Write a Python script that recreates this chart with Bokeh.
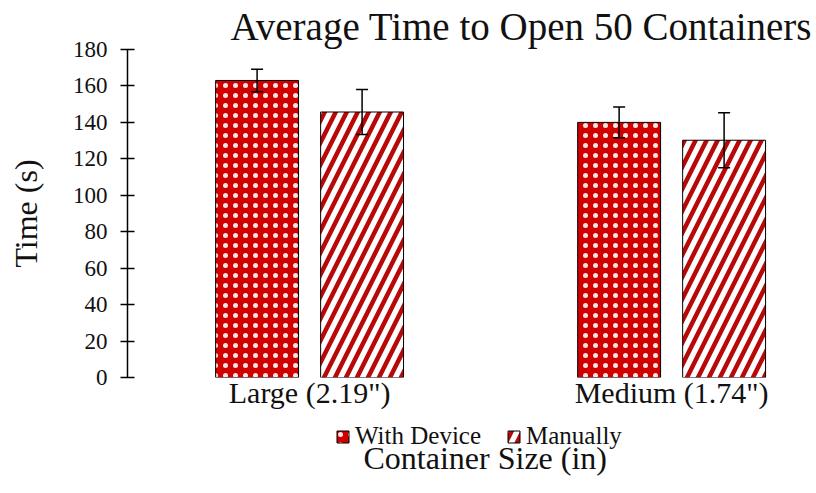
from bokeh.plotting import figure
from bokeh.models import (ColumnDataSource, Whisker, TeeHead, Legend, LegendItem,
                          FixedTicker, Range1d, Title, Label)
from bokeh.layouts import column
from bokeh.transform import dodge
from bokeh.embed import file_html
from bokeh.resources import INLINE

# ---- data ----
categories = ['Large (2.19")', 'Medium (1.74")']
device_mean = [163, 140]
device_err = [6.2, 8.4]
manual_mean = [145.7, 130.2]
manual_err = [12.3, 15.1]
y_ticks = [0, 20, 40, 60, 80, 100, 120, 140, 160, 180]
series_names = ["With Device", "Manually"]
title_text = "Average Time to Open 50 Containers"
x_title = "Container Size (in)"
y_title = "Time (s)"

FONT = "Liberation Serif"
RED = "#d00000"
STRIPE = "#b80808"
TXT = "#111111"

idx = list(range(len(categories)))
src = ColumnDataSource(dict(
    idx=idx,
    dev=device_mean,
    dev_lo=[m - e for m, e in zip(device_mean, device_err)],
    dev_hi=[m + e for m, e in zip(device_mean, device_err)],
    man=manual_mean,
    man_lo=[m - e for m, e in zip(manual_mean, manual_err)],
    man_hi=[m + e for m, e in zip(manual_mean, manual_err)],
))

dev_style = dict(fill_color=RED, line_color="black", line_width=1,
                 hatch_pattern="dot", hatch_color="#ffe4e4", hatch_scale=10, hatch_weight=1)
man_style = dict(fill_color="white", line_color="black", line_width=1,
                 hatch_pattern="right_diagonal_line", hatch_color=STRIPE,
                 hatch_scale=22, hatch_weight=4.5)

H1 = 420
p = figure(width=816, height=H1, output_backend="svg", toolbar_location=None,
           x_range=Range1d(-0.503, 1.356), y_range=Range1d(0, 180),
           min_border_left=127, min_border_right=16, min_border_top=49,
           min_border_bottom=H1 - 377)
p.title = Title(text=title_text, align="left", offset=103, text_font=FONT,
                text_font_size="39px", text_font_style="normal", text_color=TXT,
                standoff=4)
p.outline_line_color = None
p.xgrid.visible = False
p.ygrid.visible = False

off = 0.145
bw = 0.229
r1 = p.vbar(x=dodge("idx", -off), top="dev", width=bw, source=src, **dev_style)
r2 = p.vbar(x=dodge("idx", off), top="man", width=bw, source=src, **man_style)

for base_shift, lo, hi in [(-off, "dev_lo", "dev_hi"), (off, "man_lo", "man_hi")]:
    w = Whisker(base=dodge("idx", base_shift), lower=lo, upper=hi, source=src,
                line_color="black", line_width=1.5, level="overlay",
                upper_head=TeeHead(size=12, line_color="black", line_width=1.5),
                lower_head=TeeHead(size=12, line_color="black", line_width=1.5))
    p.add_layout(w)

xa = p.xaxis[0]
xa.ticker = FixedTicker(ticks=idx)
xa.major_label_overrides = {i: c for i, c in zip(idx, categories)}
xa.axis_line_color = None
xa.major_tick_line_color = None
xa.major_tick_in = 0
xa.major_tick_out = 0
xa.minor_tick_line_color = None
xa.major_label_standoff = -2
xa.major_label_text_font = FONT
xa.major_label_text_font_size = "30px"
xa.major_label_text_color = TXT

ya = p.yaxis[0]
ya.ticker = FixedTicker(ticks=y_ticks)
ya.axis_line_color = "black"
ya.axis_line_width = 1.5
ya.major_tick_in = 7
ya.major_tick_out = 7
ya.major_tick_line_width = 1.5
ya.minor_tick_line_color = None
ya.major_label_standoff = 13
ya.major_label_text_font = FONT
ya.major_label_text_font_size = "23px"
ya.major_label_text_color = TXT
ya.axis_label = y_title
ya.axis_label_standoff = 26
ya.axis_label_text_font = FONT
ya.axis_label_text_font_size = "32px"
ya.axis_label_text_font_style = "normal"
ya.axis_label_text_color = TXT

# ---- legend + x title strip ----
H2 = 493 - H1
q = figure(width=816, height=H2, output_backend="svg", toolbar_location=None,
           x_range=Range1d(0, 673), y_range=Range1d(0, H2),
           min_border_left=127, min_border_right=16, min_border_top=0,
           min_border_bottom=0)
q.axis.visible = False
q.grid.visible = False
q.outline_line_color = None
# legend swatches: same series, mapped onto off-screen ranges so only the swatch shows
q.extra_x_ranges = {"swatch_x": Range1d(-1001, -1000)}
q.extra_y_ranges = {"swatch_y": Range1d(1000, 1001)}
l1 = q.vbar(x="idx", top="dev", width=bw, source=src,
            x_range_name="swatch_x", y_range_name="swatch_y", **dev_style)
l2 = q.vbar(x="idx", top="man", width=bw, source=src,
            x_range_name="swatch_x", y_range_name="swatch_y", **man_style)

legend = Legend(items=[LegendItem(label=series_names[0], renderers=[l1], index=0),
                       LegendItem(label=series_names[1], renderers=[l2], index=0)],
                orientation="horizontal", location=(208, 43),
                padding=0, margin=0, spacing=25, label_standoff=5,
                glyph_width=15, glyph_height=15,
                border_line_color=None, background_fill_alpha=0,
                label_text_font=FONT, label_text_font_size="25px",
                label_text_color=TXT)
q.add_layout(legend, "center")

q.add_layout(Label(x=236, y=36, text=x_title, text_font=FONT, text_font_size="32px",
                   text_color=TXT, text_baseline="alphabetic", text_align="left"))

open("out.html", "w").write(file_html(column(p, q, spacing=0), INLINE))
